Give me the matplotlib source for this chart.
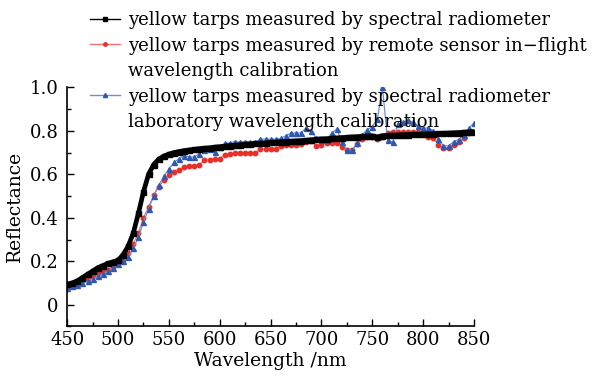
import numpy as np
import matplotlib
matplotlib.use("Agg")
from matplotlib import pyplot as plt
from matplotlib.lines import Line2D
from matplotlib.ticker import MultipleLocator, FuncFormatter

# wavelength grid of the three series (nm)
wl = list(range(450, 851, 5))

# spectral radiometer (black)
radiometer = [0.095, 0.10, 0.11, 0.125, 0.14, 0.155, 0.17, 0.18, 0.19, 0.197,
              0.205, 0.23, 0.27, 0.33, 0.42, 0.52, 0.60, 0.645, 0.67, 0.684,
              0.693, 0.70, 0.705, 0.709, 0.712, 0.715, 0.718, 0.72, 0.722, 0.725,
              0.727, 0.73, 0.732, 0.734, 0.736, 0.738, 0.74, 0.742, 0.743, 0.745,
              0.747, 0.748, 0.75, 0.751, 0.752, 0.754, 0.755, 0.757, 0.759, 0.761,
              0.763, 0.764, 0.766, 0.767, 0.769, 0.77, 0.772, 0.773, 0.775, 0.776,
              0.777, 0.772, 0.778, 0.779, 0.78, 0.781, 0.782, 0.783, 0.784, 0.784,
              0.785, 0.786, 0.787, 0.788, 0.789, 0.79, 0.791, 0.792, 0.794, 0.795,
              0.797]

# remote sensor, in-flight wavelength calibration (red)
inflight = [0.08, 0.09, 0.10, 0.11, 0.12, 0.13, 0.145, 0.15, 0.16, 0.175,
            0.19, 0.205, 0.24, 0.28, 0.33, 0.40, 0.45, 0.505, 0.54, 0.575,
            0.598, 0.61, 0.62, 0.635, 0.64, 0.638, 0.645, 0.665, 0.668, 0.67,
            0.672, 0.69, 0.692, 0.698, 0.698, 0.70, 0.698, 0.70, 0.716, 0.716,
            0.718, 0.715, 0.731, 0.735, 0.737, 0.736, 0.74, 0.75, 0.752, 0.73,
            0.736, 0.744, 0.744, 0.745, 0.728, 0.71, 0.713, 0.738, 0.762, 0.774,
            0.772, 0.762, 0.774, 0.79, 0.795, 0.795, 0.795, 0.797, 0.795, 0.795,
            0.79, 0.774, 0.765, 0.736, 0.72, 0.722, 0.736, 0.751, 0.765, 0.79,
            0.797]

# laboratory wavelength calibration (blue)
laboratory = [0.075, 0.085, 0.09, 0.10, 0.11, 0.12, 0.13, 0.14, 0.155, 0.17,
              0.185, 0.20, 0.22, 0.26, 0.31, 0.38, 0.44, 0.50, 0.55, 0.59,
              0.625, 0.655, 0.672, 0.685, 0.68, 0.68, 0.695, 0.712, 0.716, 0.705,
              0.725, 0.742, 0.745, 0.751, 0.748, 0.751, 0.748, 0.748, 0.762, 0.762,
              0.762, 0.762, 0.765, 0.777, 0.79, 0.79, 0.79, 0.815, 0.80, 0.765,
              0.759, 0.76, 0.79, 0.808, 0.751, 0.71, 0.71, 0.744, 0.782, 0.805,
              0.82, 0.854, 1.0, 0.759, 0.747, 0.833, 0.839, 0.848, 0.839, 0.824,
              0.813, 0.813, 0.80, 0.762, 0.731, 0.731, 0.751, 0.76, 0.782, 0.813,
              0.836]

# legend rows (second lines of the long labels get an empty handle)
legend_rows = ["yellow tarps measured by spectral radiometer",
               "yellow tarps measured by remote sensor in\u2212flight",
               "wavelength calibration",
               "yellow tarps measured by spectral radiometer",
               "laboratory wavelength calibration"]

plt.rcParams['font.family'] = ['DejaVu Serif']
plt.rcParams['mathtext.fontset'] = 'dejavuserif'

fig = plt.figure(figsize=(6, 3.8), dpi=100)
ax = fig.add_axes([0.112, 0.141, 0.678, 0.629])

ax.plot(wl, radiometer, color='black', lw=3.4, marker='s', ms=3.6, zorder=3)
ax.plot(wl, inflight, color='#f07070', lw=0.8, marker='o', ms=3.2,
        mfc='#e8302a', mec='#e8302a', zorder=2)
ax.plot(wl, laboratory, color='#6f8fd0', lw=0.9, marker='^', ms=3.6,
        mfc='#2f58b0', mec='#2f58b0', zorder=2)

ax.set_xlim(450, 850)
ax.set_ylim(-0.1, 1.0)
ax.xaxis.set_major_locator(MultipleLocator(50))
ax.xaxis.set_minor_locator(MultipleLocator(25))
ax.yaxis.set_major_locator(MultipleLocator(0.2))
ax.yaxis.set_minor_locator(MultipleLocator(0.1))
ax.yaxis.set_major_formatter(FuncFormatter(lambda v, p: '0' if abs(v) < 1e-9 else '%.1f' % v))
ax.tick_params(which='both', direction='in', labelsize=13)
ax.tick_params(which='major', length=5, width=1)
ax.tick_params(which='minor', length=3, width=1)
ax.tick_params(axis='y', pad=6)
for s in ['top', 'right']:
    ax.spines[s].set_visible(False)
for s in ['left', 'bottom']:
    ax.spines[s].set_linewidth(1.2)

ax.set_xlabel('Wavelength /nm', fontsize=13.5, labelpad=2)
ax.set_ylabel('Reflectance', fontsize=13.5, labelpad=4)

# legend handles are thin lines with one small marker
blank = Line2D([], [], linestyle='none')
handles = [
    Line2D([], [], color='black', lw=1.0, marker='s', ms=2.5),
    Line2D([], [], color='#f07070', lw=1.0, marker='o', ms=2.5,
           mfc='#e8302a', mec='#e8302a'),
    blank,
    Line2D([], [], color='#6f8fd0', lw=1.0, marker='^', ms=3,
           mfc='#2f58b0', mec='#2f58b0'),
    blank,
]
leg = fig.legend(handles, legend_rows, loc='upper left', bbox_to_anchor=(0.138, 0.99),
                 frameon=False, fontsize=13, handlelength=1.65, handletextpad=0.45,
                 labelspacing=0.42, borderaxespad=0, numpoints=1)

fig.savefig('out.png', dpi=100)
